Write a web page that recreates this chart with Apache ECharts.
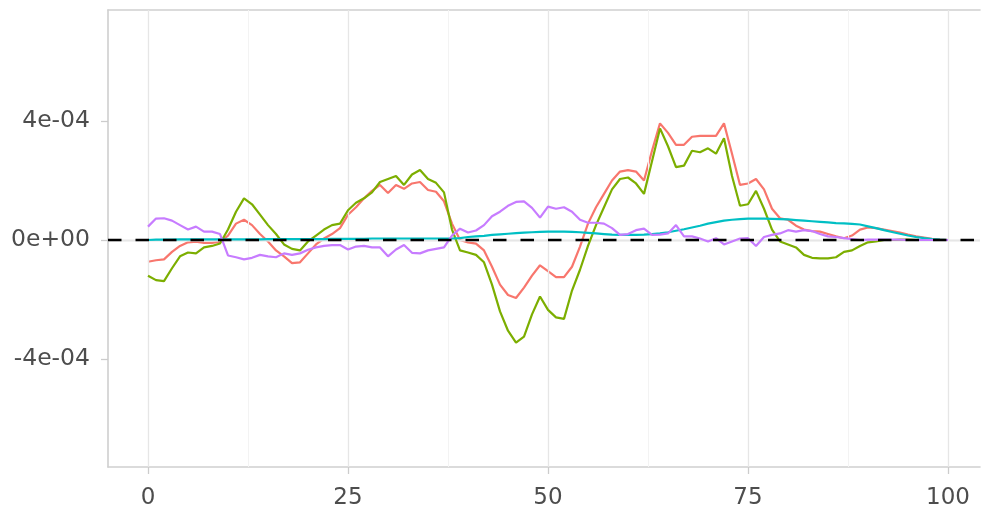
<!DOCTYPE html>
<html>
<head>
<meta charset="utf-8">
<script src="https://cdn.jsdelivr.net/npm/echarts@6/dist/echarts.min.js"></script>
<style>
  html, body { margin: 0; padding: 0; background: #ffffff; }
  #chart { width: 981px; height: 513px; }
</style>
</head>
<body>
<div id="chart"></div>
<script>
// x positions 0..100
const steps = Array.from({ length: 101 }, (_, i) => i);

const seriesRed = [
  -0.73e-4,-0.68e-4,-0.65e-4,-0.40e-4,-0.20e-4,-0.08e-4,-0.06e-4,-0.10e-4,-0.10e-4,-0.06e-4,
  0.15e-4,0.55e-4,0.68e-4,0.50e-4,0.20e-4,-0.05e-4,-0.35e-4,-0.55e-4,-0.78e-4,-0.75e-4,
  -0.45e-4,-0.15e-4,0.05e-4,0.20e-4,0.40e-4,0.85e-4,1.10e-4,1.40e-4,1.65e-4,1.85e-4,
  1.58e-4,1.85e-4,1.72e-4,1.90e-4,1.95e-4,1.68e-4,1.62e-4,1.30e-4,0.55e-4,0.00e-4,
  -0.08e-4,-0.12e-4,-0.35e-4,-0.90e-4,-1.50e-4,-1.85e-4,-1.95e-4,-1.60e-4,-1.20e-4,-0.85e-4,
  -1.05e-4,-1.25e-4,-1.25e-4,-0.90e-4,-0.22e-4,0.55e-4,1.10e-4,1.55e-4,2.00e-4,2.30e-4,
  2.35e-4,2.30e-4,2.00e-4,3.00e-4,3.92e-4,3.60e-4,3.20e-4,3.20e-4,3.47e-4,3.50e-4,
  3.50e-4,3.50e-4,3.92e-4,2.90e-4,1.85e-4,1.90e-4,2.05e-4,1.70e-4,1.05e-4,0.73e-4,
  0.68e-4,0.48e-4,0.35e-4,0.30e-4,0.28e-4,0.20e-4,0.12e-4,0.06e-4,0.15e-4,0.35e-4,
  0.42e-4,0.40e-4,0.35e-4,0.30e-4,0.25e-4,0.18e-4,0.12e-4,0.08e-4,0.04e-4,0.01e-4,0.00e-4
];

const seriesGreen = [
  -1.20e-4,-1.35e-4,-1.38e-4,-0.95e-4,-0.55e-4,-0.42e-4,-0.45e-4,-0.25e-4,-0.20e-4,-0.12e-4,
  0.35e-4,0.95e-4,1.40e-4,1.20e-4,0.85e-4,0.50e-4,0.20e-4,-0.15e-4,-0.30e-4,-0.35e-4,
  -0.05e-4,0.15e-4,0.35e-4,0.50e-4,0.55e-4,1.00e-4,1.25e-4,1.40e-4,1.60e-4,1.95e-4,
  2.05e-4,2.15e-4,1.85e-4,2.20e-4,2.35e-4,2.05e-4,1.92e-4,1.60e-4,0.35e-4,-0.35e-4,
  -0.42e-4,-0.50e-4,-0.75e-4,-1.50e-4,-2.40e-4,-3.05e-4,-3.45e-4,-3.25e-4,-2.50e-4,-1.90e-4,
  -2.35e-4,-2.60e-4,-2.65e-4,-1.70e-4,-1.00e-4,-0.20e-4,0.50e-4,1.10e-4,1.70e-4,2.05e-4,
  2.10e-4,1.90e-4,1.55e-4,2.65e-4,3.75e-4,3.15e-4,2.45e-4,2.50e-4,3.00e-4,2.95e-4,
  3.08e-4,2.90e-4,3.42e-4,2.15e-4,1.15e-4,1.20e-4,1.65e-4,1.05e-4,0.35e-4,-0.05e-4,
  -0.15e-4,-0.25e-4,-0.50e-4,-0.60e-4,-0.62e-4,-0.62e-4,-0.58e-4,-0.40e-4,-0.35e-4,-0.20e-4,
  -0.08e-4,-0.05e-4,0.00e-4,0.00e-4,0.01e-4,0.01e-4,0.00e-4,0.00e-4,0.00e-4,0.00e-4,0.00e-4
];

const seriesCyan = [
  0.00e-4,0.01e-4,0.01e-4,0.01e-4,0.02e-4,0.02e-4,0.02e-4,0.02e-4,0.02e-4,0.02e-4,
  0.02e-4,0.02e-4,0.02e-4,0.02e-4,0.02e-4,0.03e-4,0.03e-4,0.03e-4,0.03e-4,0.03e-4,
  0.03e-4,0.03e-4,0.03e-4,0.04e-4,0.04e-4,0.04e-4,0.04e-4,0.04e-4,0.05e-4,0.05e-4,
  0.05e-4,0.05e-4,0.05e-4,0.05e-4,0.05e-4,0.05e-4,0.05e-4,0.05e-4,0.05e-4,0.06e-4,
  0.10e-4,0.12e-4,0.14e-4,0.17e-4,0.19e-4,0.21e-4,0.23e-4,0.25e-4,0.26e-4,0.27e-4,
  0.28e-4,0.28e-4,0.28e-4,0.27e-4,0.26e-4,0.24e-4,0.22e-4,0.20e-4,0.18e-4,0.17e-4,
  0.17e-4,0.17e-4,0.18e-4,0.20e-4,0.22e-4,0.26e-4,0.31e-4,0.36e-4,0.42e-4,0.48e-4,
  0.55e-4,0.60e-4,0.65e-4,0.68e-4,0.70e-4,0.72e-4,0.72e-4,0.72e-4,0.71e-4,0.70e-4,
  0.69e-4,0.67e-4,0.65e-4,0.63e-4,0.61e-4,0.59e-4,0.57e-4,0.56e-4,0.54e-4,0.52e-4,
  0.46e-4,0.40e-4,0.33e-4,0.27e-4,0.21e-4,0.15e-4,0.10e-4,0.06e-4,0.03e-4,0.01e-4,0.00e-4
];

const seriesPurple = [
  0.45e-4,0.72e-4,0.73e-4,0.65e-4,0.50e-4,0.35e-4,0.45e-4,0.28e-4,0.28e-4,0.20e-4,
  -0.52e-4,-0.58e-4,-0.65e-4,-0.60e-4,-0.50e-4,-0.55e-4,-0.58e-4,-0.45e-4,-0.50e-4,-0.45e-4,
  -0.33e-4,-0.25e-4,-0.20e-4,-0.17e-4,-0.17e-4,-0.32e-4,-0.22e-4,-0.20e-4,-0.25e-4,-0.25e-4,
  -0.55e-4,-0.32e-4,-0.17e-4,-0.43e-4,-0.45e-4,-0.35e-4,-0.30e-4,-0.25e-4,0.15e-4,0.38e-4,
  0.25e-4,0.32e-4,0.50e-4,0.80e-4,0.95e-4,1.15e-4,1.28e-4,1.30e-4,1.08e-4,0.75e-4,
  1.12e-4,1.05e-4,1.10e-4,0.95e-4,0.68e-4,0.58e-4,0.58e-4,0.55e-4,0.40e-4,0.17e-4,
  0.20e-4,0.33e-4,0.38e-4,0.17e-4,0.18e-4,0.22e-4,0.50e-4,0.12e-4,0.12e-4,0.05e-4,
  -0.05e-4,0.06e-4,-0.15e-4,-0.05e-4,0.05e-4,0.06e-4,-0.20e-4,0.10e-4,0.17e-4,0.22e-4,
  0.33e-4,0.28e-4,0.33e-4,0.30e-4,0.20e-4,0.12e-4,0.10e-4,0.06e-4,0.03e-4,0.00e-4,
  0.01e-4,0.01e-4,0.01e-4,0.01e-4,0.01e-4,0.00e-4,0.00e-4,0.00e-4,0.00e-4,0.00e-4,0.00e-4
];

// axis ticks and reference line
const xTicks = [0, 25, 50, 75, 100];
const xMinorTicks = [12.5, 37.5, 62.5, 87.5];
const yTicks = [-4e-4, 0, 4e-4];
const yMinorTicks = [-6e-4, -2e-4, 2e-4, 6e-4];
const referenceLevel = 0;

// panel extents (the right side runs past the page edge)
const xMin = -5, xMax = 104;
const yMin = -7.63e-4, yMax = 7.73e-4;

const colors = ['#F8766D', '#7CAE00', '#00BFC4', '#C77CFF'];
const labelFont = '"DejaVu Sans", Verdana, sans-serif';
const frameColor = '#cfcfcf';

function sciLabel(v) {
  const s = Number(v).toExponential();
  const m = s.match(/^(-?[\d.]+)e([+-])(\d+)$/);
  if (!m) return s;
  const exp = m[3].length < 2 ? '0' + m[3] : m[3];
  return m[1] + 'e' + m[2] + exp;
}

function toPairs(arr) {
  return arr.map((v, i) => [steps[i], v]);
}

function guideLines(xs, ys, color, width, z) {
  return {
    type: 'line', data: [], silent: true, z: z,
    markLine: {
      silent: true, symbol: 'none', label: { show: false }, animation: false,
      lineStyle: { color: color, width: width, type: 'solid' },
      data: xs.map(v => ({ xAxis: v })).concat(ys.map(v => ({ yAxis: v })))
    }
  };
}

const chart = echarts.init(document.getElementById('chart'), null, { renderer: 'canvas' });

const lineSeries = [seriesRed, seriesGreen, seriesCyan, seriesPurple].map((arr, k) => ({
  type: 'line',
  data: toPairs(arr),
  showSymbol: false,
  symbol: 'none',
  lineStyle: { color: colors[k], width: 2.2 },
  z: 4 + k,
  silent: true
}));

const frameLine = { show: true, onZero: false, lineStyle: { color: frameColor, width: 1.6 } };

const option = {
  animation: false,
  backgroundColor: '#ffffff',
  grid: { left: 108, top: 10, width: 872, height: 457, show: false },
  xAxis: [
    {
      type: 'value', min: xMin, max: xMax, position: 'bottom',
      axisLine: frameLine,
      splitLine: { show: false },
      axisTick: { show: true, length: 7, customValues: xTicks, lineStyle: { color: '#cccccc', width: 1.3 } },
      axisLabel: {
        customValues: xTicks, margin: 20, color: '#4d4d4d', fontSize: 23,
        fontFamily: labelFont
      }
    },
    {
      type: 'value', min: xMin, max: xMax, position: 'top',
      axisLine: frameLine,
      splitLine: { show: false },
      axisTick: { show: false },
      axisLabel: { show: false }
    }
  ],
  yAxis: {
    type: 'value', min: yMin, max: yMax,
    axisLine: frameLine,
    splitLine: { show: false },
    axisTick: { show: true, length: 7, customValues: yTicks, lineStyle: { color: '#cccccc', width: 1.3 } },
    axisLabel: {
      customValues: yTicks, margin: 18, color: '#4d4d4d', fontSize: 23.5,
      fontFamily: labelFont,
      formatter: sciLabel
    }
  },
  series: [
    guideLines(xMinorTicks, yMinorTicks, '#f3f3f3', 1, 1),
    guideLines(xTicks, yTicks, '#e6e6e6', 1.3, 2),
    ...lineSeries,
    {
      type: 'line',
      data: [[xMin, referenceLevel], [xMax, referenceLevel]],
      showSymbol: false, symbol: 'none', silent: true, z: 10,
      lineStyle: { color: '#000000', width: 2.6, type: [13.5, 14] }
    }
  ]
};

chart.setOption(option);
</script>
</body>
</html>
